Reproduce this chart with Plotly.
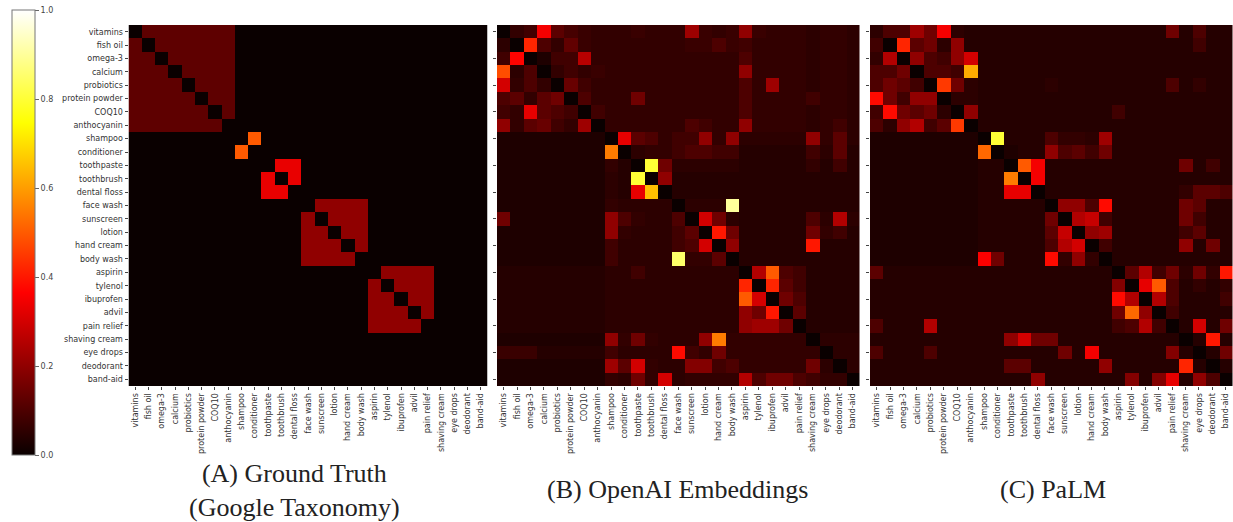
import plotly.graph_objects as go

labels = ["vitamins", "fish oil", "omega-3", "calcium", "probiotics", "protein powder", "COQ10",
          "anthocyanin", "shampoo", "conditioner", "toothpaste", "toothbrush", "dental floss",
          "face wash", "sunscreen", "lotion", "hand cream", "body wash", "aspirin", "tylenol",
          "ibuprofen", "advil", "pain relief", "shaving cream", "eye drops", "deodorant", "band-aid"]

# Ground truth: group id of each item, and the similarity value inside each group
gt_group = [0, 0, 0, 0, 0, 0, 0, 0, 1, 1, 2, 2, 2, 3, 3, 3, 3, 3, 4, 4, 4, 4, 4, 5, 6, 7, 8]
gt_group_value = [0.125, 0.5, 0.333, 0.2, 0.2, 0.0, 0.0, 0.0, 0.0]

openai_values = [
    [.00,.06,.08,.35,.12,.09,.07,.06,.06,.06,.07,.06,.06,.06,.22,.07,.06,.07,.20,.07,.06,.06,.06,.05,.06,.06,.05],
    [.05,.00,.42,.10,.06,.13,.07,.06,.06,.06,.06,.06,.06,.06,.07,.07,.10,.07,.08,.06,.06,.06,.06,.05,.06,.06,.05],
    [.08,.37,.00,.03,.08,.08,.26,.06,.06,.06,.06,.06,.06,.06,.06,.06,.06,.06,.10,.06,.06,.06,.06,.05,.06,.06,.05],
    [.48,.05,.10,.00,.06,.08,.06,.07,.06,.06,.06,.06,.06,.06,.06,.06,.06,.06,.20,.06,.06,.06,.06,.05,.06,.06,.05],
    [.30,.06,.10,.06,.00,.14,.08,.06,.06,.06,.06,.06,.06,.06,.06,.06,.06,.06,.10,.06,.22,.06,.06,.05,.06,.06,.05],
    [.10,.12,.06,.12,.15,.00,.10,.06,.06,.06,.15,.06,.06,.06,.06,.06,.06,.06,.10,.06,.06,.06,.06,.08,.06,.06,.05],
    [.08,.06,.33,.12,.10,.08,.00,.08,.06,.06,.06,.06,.06,.06,.06,.06,.06,.06,.10,.06,.06,.06,.06,.05,.06,.06,.05],
    [.20,.06,.12,.14,.08,.06,.22,.00,.06,.06,.06,.06,.06,.06,.10,.08,.06,.06,.20,.06,.06,.06,.06,.05,.06,.08,.05],
    [.03,.03,.03,.03,.03,.03,.03,.03,.00,.33,.12,.10,.06,.08,.08,.20,.06,.20,.05,.05,.05,.05,.05,.20,.06,.12,.05],
    [.03,.03,.03,.03,.03,.03,.03,.03,.55,.00,.05,.06,.06,.08,.10,.10,.08,.08,.04,.04,.04,.04,.04,.08,.05,.12,.04],
    [.03,.03,.03,.03,.03,.03,.03,.03,.06,.04,.00,.80,.15,.05,.05,.05,.05,.05,.04,.04,.04,.04,.04,.06,.04,.08,.04],
    [.03,.03,.03,.03,.03,.03,.03,.03,.05,.04,.80,.00,.20,.04,.04,.04,.04,.04,.04,.04,.04,.04,.04,.04,.04,.04,.04],
    [.03,.03,.03,.03,.03,.03,.03,.03,.05,.04,.33,.65,.00,.04,.04,.04,.04,.04,.04,.04,.04,.04,.04,.04,.04,.04,.04],
    [.03,.03,.03,.03,.03,.03,.03,.03,.06,.05,.05,.05,.05,.00,.05,.05,.05,.90,.04,.04,.04,.04,.04,.04,.04,.04,.04],
    [.15,.03,.03,.03,.03,.03,.03,.03,.20,.10,.06,.05,.05,.10,.00,.30,.15,.05,.04,.04,.04,.04,.04,.10,.05,.25,.05],
    [.03,.03,.03,.03,.03,.03,.03,.03,.20,.06,.05,.05,.05,.08,.12,.00,.40,.15,.04,.04,.04,.04,.04,.15,.06,.08,.04],
    [.03,.03,.03,.03,.03,.03,.03,.03,.08,.05,.05,.05,.05,.08,.10,.30,.00,.20,.04,.04,.04,.04,.04,.40,.04,.04,.04],
    [.03,.03,.03,.03,.03,.03,.03,.03,.08,.05,.05,.05,.05,.85,.06,.06,.12,.00,.04,.04,.04,.04,.04,.04,.04,.04,.04],
    [.04,.04,.04,.04,.04,.04,.04,.04,.05,.05,.08,.05,.05,.05,.05,.05,.05,.05,.00,.25,.50,.10,.08,.04,.04,.04,.04],
    [.04,.04,.04,.04,.04,.04,.04,.04,.05,.05,.05,.05,.05,.05,.05,.05,.05,.05,.42,.00,.42,.12,.08,.04,.04,.04,.04],
    [.04,.04,.04,.04,.04,.04,.04,.04,.05,.05,.05,.05,.05,.05,.05,.05,.05,.05,.50,.30,.00,.15,.10,.04,.04,.04,.04],
    [.04,.04,.04,.04,.04,.04,.04,.04,.05,.05,.05,.05,.05,.05,.05,.05,.05,.05,.20,.15,.40,.00,.12,.04,.04,.04,.04],
    [.04,.04,.04,.04,.04,.04,.04,.04,.05,.05,.05,.05,.05,.05,.05,.05,.05,.05,.20,.22,.22,.15,.00,.04,.04,.04,.04],
    [.03,.03,.03,.03,.03,.03,.03,.03,.20,.06,.15,.06,.05,.05,.05,.20,.55,.06,.06,.06,.06,.06,.06,.00,.05,.05,.05],
    [.07,.07,.07,.04,.04,.04,.04,.04,.08,.05,.05,.05,.05,.38,.08,.06,.15,.06,.06,.06,.06,.06,.06,.06,.00,.05,.05],
    [.03,.03,.03,.03,.03,.03,.03,.03,.22,.12,.30,.06,.05,.05,.18,.18,.08,.10,.06,.06,.06,.06,.06,.15,.05,.00,.05],
    [.03,.03,.03,.03,.03,.03,.03,.03,.06,.05,.15,.06,.30,.05,.06,.06,.06,.06,.25,.10,.15,.15,.10,.08,.06,.06,.00],
]

palm_values = [
    [.05,.10,.10,.22,.15,.35,.05,.04,.04,.04,.04,.04,.04,.04,.04,.04,.04,.04,.04,.04,.04,.04,.15,.04,.10,.04,.04],
    [.08,.00,.42,.12,.15,.05,.20,.04,.04,.04,.04,.04,.04,.04,.04,.04,.04,.04,.04,.04,.04,.04,.04,.04,.08,.04,.04],
    [.06,.25,.00,.20,.10,.08,.20,.30,.04,.04,.04,.04,.04,.04,.04,.04,.04,.04,.04,.04,.04,.04,.04,.04,.04,.04,.04],
    [.10,.10,.15,.00,.10,.10,.08,.62,.04,.04,.04,.04,.04,.04,.04,.04,.04,.04,.04,.04,.04,.04,.04,.04,.04,.04,.04],
    [.10,.15,.12,.08,.00,.45,.15,.05,.04,.04,.04,.04,.04,.05,.04,.04,.04,.04,.04,.04,.04,.04,.10,.04,.06,.04,.04],
    [.38,.15,.08,.20,.20,.00,.05,.05,.04,.04,.04,.04,.04,.04,.04,.04,.04,.04,.04,.04,.04,.04,.04,.04,.04,.04,.04],
    [.08,.38,.15,.12,.15,.05,.00,.20,.04,.04,.04,.04,.04,.04,.04,.04,.04,.04,.08,.04,.04,.04,.04,.04,.04,.04,.04],
    [.10,.05,.20,.25,.08,.12,.45,.00,.04,.04,.04,.04,.04,.04,.04,.04,.04,.04,.04,.04,.04,.04,.04,.04,.04,.04,.04],
    [.03,.03,.03,.03,.03,.03,.03,.03,.00,.80,.04,.04,.04,.10,.06,.06,.05,.22,.04,.04,.04,.04,.04,.04,.04,.04,.04],
    [.03,.03,.03,.03,.03,.03,.03,.03,.52,.00,.03,.04,.04,.20,.10,.12,.08,.15,.04,.04,.04,.04,.04,.04,.04,.04,.04],
    [.03,.03,.03,.03,.03,.03,.03,.03,.04,.04,.00,.50,.35,.04,.04,.04,.04,.04,.04,.04,.04,.04,.04,.15,.04,.08,.04],
    [.03,.03,.03,.03,.03,.03,.03,.03,.04,.04,.55,.00,.35,.04,.04,.04,.04,.04,.04,.04,.04,.04,.04,.04,.04,.04,.04],
    [.03,.03,.03,.03,.03,.03,.03,.03,.04,.04,.33,.33,.00,.04,.04,.04,.04,.04,.04,.04,.04,.04,.04,.06,.12,.12,.10],
    [.03,.03,.03,.03,.03,.03,.03,.03,.04,.04,.04,.04,.04,.00,.20,.20,.10,.38,.04,.04,.04,.04,.04,.15,.12,.04,.04],
    [.03,.03,.03,.03,.03,.03,.03,.03,.04,.04,.04,.04,.04,.15,.00,.25,.28,.08,.04,.04,.04,.04,.04,.15,.08,.04,.04],
    [.03,.03,.03,.03,.03,.03,.03,.03,.04,.04,.04,.04,.04,.12,.28,.00,.20,.22,.04,.04,.04,.04,.04,.08,.12,.04,.04],
    [.03,.03,.03,.03,.03,.03,.03,.03,.04,.04,.04,.04,.04,.10,.25,.30,.00,.08,.04,.04,.04,.04,.04,.20,.04,.15,.04],
    [.03,.03,.03,.03,.03,.03,.03,.03,.36,.15,.04,.04,.04,.38,.06,.20,.06,.00,.04,.04,.04,.04,.04,.04,.04,.04,.04],
    [.12,.04,.04,.04,.04,.04,.04,.04,.04,.04,.04,.04,.04,.04,.04,.04,.04,.04,.00,.12,.25,.08,.15,.05,.15,.06,.40],
    [.04,.04,.04,.04,.04,.04,.04,.04,.04,.04,.04,.04,.04,.04,.04,.04,.04,.04,.18,.00,.33,.50,.10,.04,.06,.04,.06],
    [.04,.04,.04,.04,.04,.04,.04,.04,.04,.04,.04,.04,.04,.04,.04,.04,.04,.04,.38,.25,.00,.25,.10,.04,.04,.04,.08],
    [.04,.04,.04,.04,.04,.04,.04,.04,.04,.04,.04,.04,.04,.04,.04,.04,.04,.04,.15,.52,.20,.00,.08,.04,.04,.04,.04],
    [.10,.04,.04,.04,.25,.04,.04,.04,.04,.04,.04,.04,.04,.04,.04,.04,.04,.04,.08,.10,.25,.08,.00,.04,.30,.04,.15],
    [.04,.04,.04,.04,.04,.04,.04,.04,.04,.04,.20,.30,.15,.15,.04,.04,.04,.04,.04,.04,.04,.04,.04,.00,.04,.40,.04],
    [.10,.04,.04,.04,.10,.04,.04,.04,.04,.04,.04,.04,.04,.04,.15,.04,.35,.04,.04,.04,.04,.04,.18,.04,.00,.04,.15],
    [.04,.04,.04,.04,.04,.04,.04,.04,.04,.04,.12,.12,.04,.04,.04,.04,.04,.20,.04,.04,.04,.04,.04,.42,.04,.00,.04],
    [.04,.04,.04,.04,.04,.04,.04,.04,.04,.04,.04,.04,.20,.04,.04,.04,.04,.04,.04,.18,.04,.18,.33,.04,.20,.10,.00],
]

colorbar_ticks = [0.0, 0.2, 0.4, 0.6, 0.8, 1.0]
panel_titles = ["(A) Ground Truth<br>(Google Taxonomy)", "(B) OpenAI Embeddings", "(C) PaLM"]

# build ground truth table from group membership
gt_values = [[(gt_group_value[gt_group[i]] if (gt_group[i] == gt_group[j] and i != j) else 0.0)
              for j in range(len(labels))] for i in range(len(labels))]

W, H = 1233, 522
hot = [[0.0, "rgb(10,0,0)"], [0.365079, "rgb(255,0,0)"],
       [0.746032, "rgb(255,255,0)"], [1.0, "rgb(255,255,255)"]]

fig = go.Figure()
for k, z in enumerate([gt_values, openai_values, palm_values]):
    suffix = "" if k == 0 else str(k + 1)
    fig.add_trace(go.Heatmap(z=z, x=labels, y=labels, coloraxis="coloraxis",
                             xaxis="x" + suffix, yaxis="y" + suffix, hoverongaps=False))

domains = [(128.5, 487.5), (497, 859.5), (870, 1232.5)]
ytop, ybot = 25, 386
tickfont = dict(family="DejaVu Sans", size=8, color="#333333")
for k, (x0, x1) in enumerate(domains):
    suffix = "" if k == 0 else str(k + 1)
    fig.update_layout({
        "xaxis" + suffix: dict(domain=[x0 / W, x1 / W], anchor="y" + suffix, tickangle=-90,
                               tickfont=tickfont, ticks="outside", ticklen=3, tickcolor="#444",
                               showgrid=False, zeroline=False, type="category",
                               showline=False),
        "yaxis" + suffix: dict(domain=[1 - ybot / H, 1 - ytop / H], anchor="x" + suffix,
                               autorange="reversed", tickfont=tickfont, ticks="outside",
                               ticklen=3, tickcolor="#444", showgrid=False, zeroline=False,
                               type="category", showticklabels=(k == 0), showline=False),
    })

fig.update_layout(
    width=W, height=H, margin=dict(l=0, r=0, t=0, b=0),
    paper_bgcolor="white", plot_bgcolor="white",
    coloraxis=dict(
        colorscale=hot, cmin=0, cmax=1,
        colorbar=dict(x=12 / W, xanchor="left", xpad=0, ypad=0, thickness=23,
                      len=445 / H, lenmode="fraction", y=1 - 232.5 / H, yanchor="middle",
                      outlinewidth=1, outlinecolor="#777777", ticks="outside", ticklen=4,
                      tickcolor="#666", tickvals=colorbar_ticks,
                      ticktext=["%.1f" % v for v in colorbar_ticks],
                      tickfont=dict(family="DejaVu Sans", size=8, color="#444444")),
    ),
    showlegend=False,
)

title_font = dict(family="Liberation Serif", size=26, color="#222222")
fig.add_annotation(text=panel_titles[0], x=294 / W, y=1 - 490 / H, xref="paper", yref="paper",
                   showarrow=False, font=title_font, xanchor="center", yanchor="middle")
fig.add_annotation(text=panel_titles[1], x=677 / W, y=1 - 489 / H, xref="paper", yref="paper",
                   showarrow=False, font=title_font, xanchor="center", yanchor="middle")
fig.add_annotation(text=panel_titles[2], x=1053 / W, y=1 - 489 / H, xref="paper", yref="paper",
                   showarrow=False, font=title_font, xanchor="center", yanchor="middle")

fig.write_html("out.html", config={"displayModeBar": False},
               post_script="document.body.style.margin='0';document.body.style.padding='0';")
